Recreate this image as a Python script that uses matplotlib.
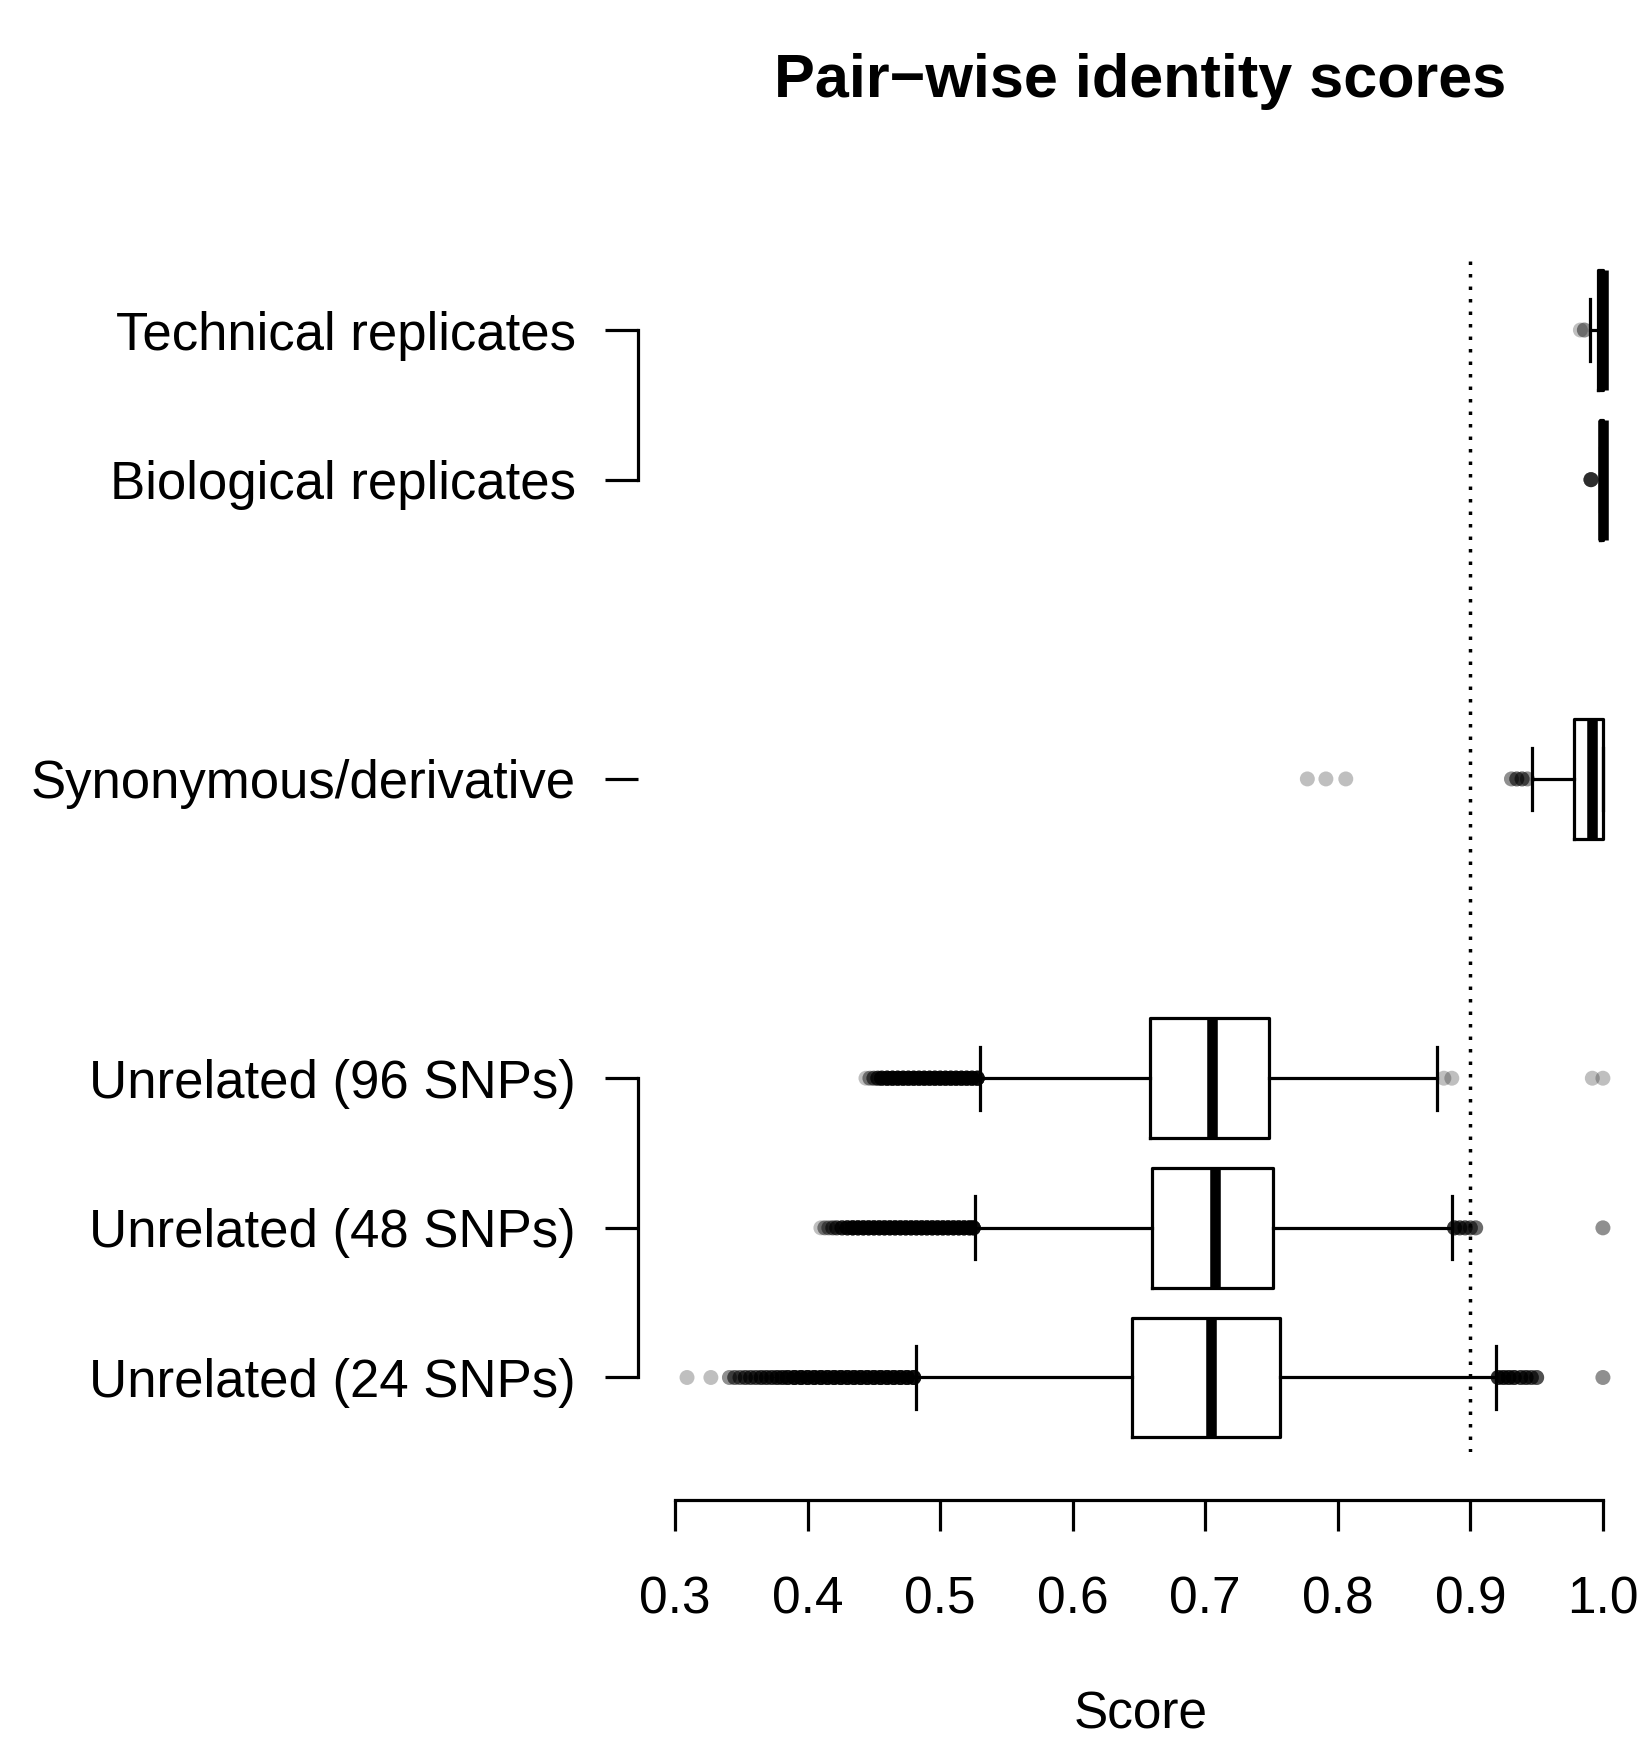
import numpy as np
import matplotlib
matplotlib.use("Agg")
import matplotlib.pyplot as plt
import matplotlib.transforms as mtransforms

plt.rcParams['font.family'] = ['Liberation Sans', 'DejaVu Sans']

# groups, bottom to top
groups = ['Unrelated (24 SNPs)', 'Unrelated (48 SNPs)', 'Unrelated (96 SNPs)',
          'Synonymous/derivative', 'Biological replicates', 'Technical replicates']

# box statistics
whislo = [0.482, 0.526, 0.530, 0.9465, 0.998, 0.990]
q1 = [0.645, 0.660, 0.658, 0.978, 0.998, 0.996]
med = [0.704, 0.707, 0.705, 0.9915, 1.000, 1.000]
q3 = [0.756, 0.751, 0.748, 1.000, 1.000, 1.000]
whishi = [0.919, 0.886, 0.875, 1.000, 1.000, 1.000]

# outlying scores and how many points pile up at each value
u24_out = [0.309, 0.327, 0.341, 0.345, 0.349, 0.353, 0.357, 0.361, 0.365, 0.369,
           0.373, 0.377, 0.381, 0.385, 0.390, 0.395, 0.400, 0.405, 0.410, 0.415,
           0.420, 0.425, 0.430, 0.435, 0.440, 0.445, 0.450, 0.455, 0.460, 0.465,
           0.470, 0.475, 0.480, 0.921, 0.925, 0.929, 0.933, 0.938, 0.942, 0.946,
           0.950, 1.000]
u24_cnt = [1, 1, 2, 3, 3, 4, 4, 4, 5, 5,
           5, 6, 6, 8, 10, 10, 10, 10, 10, 10,
           10, 10, 10, 10, 10, 10, 10, 10, 10, 10,
           10, 10, 10, 6, 6, 6, 6, 5, 5, 4,
           4, 2]
u48_out = [0.410, 0.413, 0.416, 0.419, 0.422, 0.426, 0.430, 0.434, 0.438, 0.442,
           0.446, 0.450, 0.454, 0.458, 0.462, 0.466, 0.470, 0.474, 0.478, 0.482,
           0.486, 0.490, 0.494, 0.498, 0.502, 0.506, 0.510, 0.514, 0.518, 0.522,
           0.525, 0.888, 0.892, 0.896, 0.900, 0.904, 1.000]
u48_cnt = [1, 2, 2, 3, 4, 6, 8, 10, 10, 10,
           10, 10, 10, 10, 10, 10, 10, 10, 10, 10,
           10, 10, 10, 10, 10, 10, 10, 10, 10, 10,
           10, 5, 4, 4, 3, 3, 2]
u96_out = [0.444, 0.447, 0.450, 0.453, 0.456, 0.460, 0.464, 0.468, 0.472, 0.476,
           0.480, 0.484, 0.488, 0.492, 0.496, 0.500, 0.504, 0.508, 0.512, 0.516,
           0.520, 0.524, 0.528, 0.880, 0.886, 0.992, 1.000]
u96_cnt = [1, 2, 3, 5, 8, 10, 10, 10, 10, 10,
           10, 10, 10, 10, 10, 10, 10, 10, 10, 10,
           10, 10, 10, 1, 1, 1, 1]
syn_out = [0.777, 0.791, 0.806, 0.931, 0.935, 0.939, 0.943]
syn_cnt = [1, 1, 1, 2, 3, 3, 2]
bio_out = [0.991]
bio_cnt = [6]
tech_out = [0.983, 0.986]
tech_cnt = [1, 2]

outliers = [u24_out, u48_out, u96_out, syn_out, bio_out, tech_out]
counts = [u24_cnt, u48_cnt, u96_cnt, syn_cnt, bio_cnt, tech_cnt]

x_ticks = [0.3, 0.4, 0.5, 0.6, 0.7, 0.8, 0.9, 1.0]
threshold = 0.9

# layout
row_pos = [1, 2, 3, 5, 7, 8]

fig = plt.figure(figsize=(16.43, 17.42), dpi=100)
ax = fig.add_axes([0.3883, 0.1663, 0.6099, 0.6872])

stats = []
for i in range(len(groups)):
    stats.append(dict(label=groups[i], whislo=whislo[i], q1=q1[i], med=med[i],
                      q3=q3[i], whishi=whishi[i], fliers=[]))

lw = 2.3
ax.bxp(stats, positions=row_pos, widths=0.8, capwidths=0.42,
       orientation='horizontal', showfliers=False, manage_ticks=False,
       boxprops=dict(color='black', linewidth=lw),
       whiskerprops=dict(color='black', linewidth=lw),
       capprops=dict(color='black', linewidth=lw),
       medianprops=dict(color='black', linewidth=7.6, solid_capstyle='butt'),
       zorder=3)

for i in range(len(groups)):
    vals = np.repeat(outliers[i], counts[i])
    ax.scatter(vals, np.full(len(vals), row_pos[i]), s=116, color='black',
               alpha=0.25, edgecolors='none', zorder=2)

ax.axvline(threshold, color='black', linewidth=2.5, linestyle=(0, (1, 2.6)), zorder=1)

ax.set_xlim(0.272, 1.028)
ax.set_ylim(0.5, 8.5)

for s in ['top', 'right', 'left']:
    ax.spines[s].set_visible(False)
ax.spines['bottom'].set_position(('outward', 34))
ax.spines['bottom'].set_bounds(0.3, 1.0)
ax.spines['bottom'].set_linewidth(lw)

ax.set_xticks(x_ticks)
ax.set_xticklabels(['%.1f' % t for t in x_ticks])
ax.tick_params(axis='x', length=22.4, width=lw, pad=32, labelsize=37)

ax.set_yticks(row_pos)
ax.set_yticklabels(groups)
ax.tick_params(axis='y', length=23.8, width=lw, pad=21, labelsize=38)

# brackets joining related groups
trans = mtransforms.blended_transform_factory(ax.transAxes, ax.transData)
ax.plot([0, 0], [7, 8], color='black', linewidth=lw, transform=trans, clip_on=False,
        solid_capstyle='projecting')
ax.plot([0, 0], [1, 3], color='black', linewidth=lw, transform=trans, clip_on=False,
        solid_capstyle='projecting')

fig.text(0.694, 0.9535, 'Pair\u2212wise identity scores', ha='center', va='center',
         fontsize=44, fontweight='bold')
fig.text(0.694, 0.0075, 'Score', ha='center', va='baseline', fontsize=37)

fig.savefig('out.png', dpi=100)
